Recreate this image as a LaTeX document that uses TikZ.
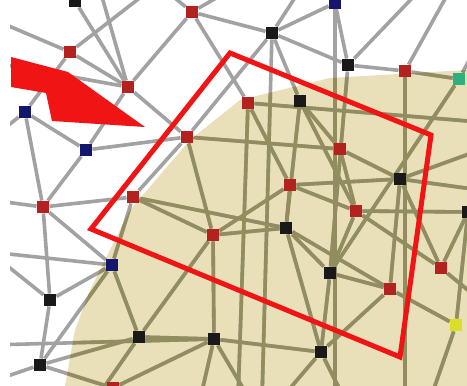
\documentclass[tikz,border=0pt]{standalone}
\usepackage{tikz}
\usetikzlibrary{positioning}
\definecolor{sand}{HTML}{E9DFB8}
\definecolor{wire}{HTML}{A2A2A2}
\definecolor{olivewire}{HTML}{928D5E}
\definecolor{cred}{HTML}{B3221E}
\definecolor{cnavy}{HTML}{14166E}
\definecolor{cgreen}{HTML}{2FAE80}
\definecolor{cyellow}{HTML}{DCDC2A}
\definecolor{cmark}{HTML}{F01414}
\tikzset{
  sq/.style={rectangle, draw=none, minimum size=12.5pt, inner sep=0pt},
  rsq/.style={sq, fill=cred},
  ksq/.style={sq, fill=black!90},
  bsq/.style={sq, fill=cnavy},
  link/.style={line width=3.6pt, draw=wire},
  olink/.style={line width=3.6pt, draw=olivewire},
  frame/.style={draw=cmark, line width=5pt, line join=miter},
}
\newcommand{\netlinks}{k0/r3, r2/r3, r3/r1, cA/r2, r2/b2, b2/b3, b3/r6, r3/r6, r1/r4, r1/k1,
  k1/k3, k1/k2, k3/r5, b1/cB, r5/cC, r5/cD, g1/k10, r4/cF, r6/r7, r4/cG, k1/cH, k2/k9,
  k3/k10, r7/k4, k4/r14, r13/r15, k9/k10, r8/r13, r11/k9, r9/b4, b4/k6, cI/b4, k8/b4,
  cK/k7, k8/k6, k6/k7, k7/k11, k11/r14, r14/y1, r15/k12, k12/y1, r10/r11, r11/r8, r11/k6,
  r10/k9, k7/cL, k11/cM, k6/cN, r12/k7, r3/b3, r6/r10, r10/b4, k1/r6, r2/cO, k5/r9, k5/k8,
  r8/k4, k2/r7, r13/k10, k4/cP, cQ/r1, r9/r10,
  cR/r3, cS/r3, r1/cT, k1/b1, b1/k3, k1/cU, k3/cV, r5/g1, g1/cW, b2/cX, b2/r9, b3/r9,
  r9/cY, k5/cI, k5/b4, k8/cZ, k8/r12, r4/r8, k2/r13, r7/r13, r8/k9, k9/k11, r13/k12,
  k4/r15, k10/r14, k10/k11, k11/cAA, k7/cAB, r11/k7, k4/cAC, r15/cAD, y1/cAE, k12/cAF,
  r6/r11, k9/r14, r12/cAB}
\newcommand{\sandarea}{(467,70) -- (330,78) -- (240,100) -- (190,140) -- (160,175) -- (130,210)
  -- (110,250) -- (90,290) -- (75,330) -- (65,386) -- (467,386) -- cycle}
\begin{document}
\begin{tikzpicture}[x=1pt,y=-1pt]
  \useasboundingbox (0,0) rectangle (467,386);
  \clip (0,0) rectangle (467,386);
  \fill[white] (0,0) rectangle (467,386);
  % shaded area
  \fill[sand] \sandarea;
  % nodes of the net
  \node[ksq] (k0) at (75,1) {};
  \node[rsq] (r1) at (192,12) {};
  \node[ksq] (k1) at (272,33) {};
  \node[bsq] (b1) at (335,3) {};
  \node[rsq] (r2) at (70,52) {};
  \node[rsq] (r3) at (128,87) {};
  \node[rsq] (r4) at (248,103) {};
  \node[ksq] (k2) at (300,101) {};
  \node[ksq] (k3) at (348,65) {};
  \node[rsq] (r5) at (405,71) {};
  \node[sq,fill=cgreen] (g1) at (459,79) {};
  \node[bsq] (b2) at (25,112) {};
  \node[bsq] (b3) at (86,150) {};
  \node[rsq] (r6) at (187,137) {};
  \node[rsq] (r7) at (340,149) {};
  \node[ksq] (k4) at (400,179) {};
  \node[rsq] (r8) at (290,185) {};
  \node[rsq] (r9) at (43,207) {};
  \node[rsq] (r10) at (133,197) {};
  \node[rsq] (r11) at (213,235) {};
  \node[bsq] (b4) at (112,265) {};
  \node[ksq] (k5) at (50,300) {};
  \node[ksq] (k6) at (139,337) {};
  \node[ksq] (k7) at (214,339) {};
  \node[ksq] (k8) at (40,365) {};
  \node[rsq] (r12) at (113,388) {};
  \node[rsq] (r13) at (356,211) {};
  \node[ksq] (k9) at (286,228) {};
  \node[ksq] (k10) at (330,273) {};
  \node[rsq] (r14) at (390,289) {};
  \node[rsq] (r15) at (441,268) {};
  \node[ksq] (k11) at (321,352) {};
  \node[sq,fill=cyellow] (y1) at (456,325) {};
  \node[ksq] (k12) at (468,212) {};
  % free ends beyond the frame
  \coordinate (cA) at (-10,18);
  \coordinate (cB) at (335,400);
  \coordinate (cC) at (405,400);
  \coordinate (cD) at (450,-10);
  \coordinate (cF) at (480,122);
  \coordinate (cG) at (238,400);
  \coordinate (cH) at (262,400);
  \coordinate (cI) at (-10,252);
  \coordinate (cK) at (-10,345);
  \coordinate (cL) at (200,400);
  \coordinate (cM) at (345,400);
  \coordinate (cN) at (95,400);
  \coordinate (cO) at (150,-10);
  \coordinate (cP) at (480,150);
  \coordinate (cQ) at (230,-10);
  \coordinate (cR) at (100,-10);
  \coordinate (cS) at (-10,62);
  \coordinate (cT) at (165,-10);
  \coordinate (cU) at (300,-10);
  \coordinate (cV) at (420,-10);
  \coordinate (cW) at (480,40);
  \coordinate (cX) at (-10,140);
  \coordinate (cY) at (-10,200);
  \coordinate (cZ) at (-10,382);
  \coordinate (cAA) at (280,400);
  \coordinate (cAB) at (250,400);
  \coordinate (cAC) at (480,190);
  \coordinate (cAD) at (480,300);
  \coordinate (cAE) at (430,400);
  \coordinate (cAF) at (480,250);
  % links, grey outside and olive inside the shaded area
  \foreach \a/\b in \netlinks \draw[link] (\a) -- (\b);
  \begin{scope}
    \clip \sandarea;
    \foreach \a/\b in \netlinks \draw[olink] (\a) -- (\b);
  \end{scope}
  % nodes again on top of the links
  \foreach \n in {k0,k1,k2,k3,k4,k5,k6,k7,k8,k9,k10,k11,k12}
    \fill[black!90] (\n.south west) rectangle (\n.north east);
  \foreach \n in {r1,r2,r3,r4,r5,r6,r7,r8,r9,r10,r11,r12,r13,r14,r15}
    \fill[cred] (\n.south west) rectangle (\n.north east);
  \foreach \n in {b1,b2,b3,b4}
    \fill[cnavy] (\n.south west) rectangle (\n.north east);
  \fill[cgreen] (g1.south west) rectangle (g1.north east);
  \fill[cyellow] (y1.south west) rectangle (y1.north east);
  % white margin on the left
  \fill[white] (0,0) rectangle (10,386);
  % red frame and pointer
  \coordinate (fT) at (230,53);
  \coordinate (fR) at (431,135);
  \coordinate (fB) at (400,357);
  \coordinate (fL) at (91,229);
  \draw[frame] (fT) -- (fR) -- (fB) -- (fL) -- cycle;
  \fill[cmark] (11,57) -- (68,72) -- (145,127) -- (52,121) -- (46,93) -- (11,87) -- cycle;
\end{tikzpicture}
\end{document}
